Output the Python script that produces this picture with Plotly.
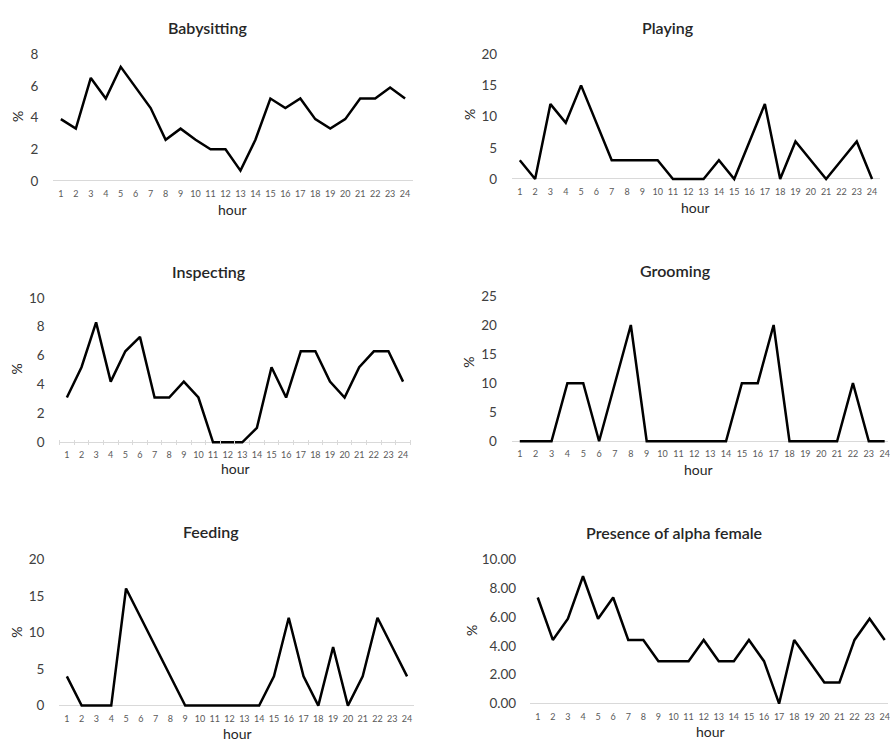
import plotly.graph_objects as go

W, H = 890, 744

hours = list(range(1, 25))
hour_labels = [str(h) for h in hours]

babysitting = [3.9, 3.3, 6.5, 5.2, 7.2, 5.9, 4.6, 2.6, 3.3, 2.6, 2.0, 2.0,
               0.65, 2.6, 5.2, 4.6, 5.2, 3.9, 3.3, 3.9, 5.2, 5.2, 5.9, 5.2]
playing = [3, 0, 12, 9, 15, 9, 3, 3, 3, 3, 0, 0,
           0, 3, 0, 6, 12, 0, 6, 3, 0, 3, 6, 0]
inspecting = [3.1, 5.2, 8.3, 4.2, 6.3, 7.3, 3.1, 3.1, 4.2, 3.1, 0, 0,
              0, 1.0, 5.2, 3.1, 6.3, 6.3, 4.2, 3.1, 5.2, 6.3, 6.3, 4.2]
grooming = [0, 0, 0, 10, 10, 0, 10, 20, 0, 0, 0, 0,
            0, 0, 10, 10, 20, 0, 0, 0, 0, 10, 0, 0]
feeding = [4, 0, 0, 0, 16, 12, 8, 4, 0, 0, 0, 0,
           0, 0, 4, 12, 4, 0, 8, 0, 4, 12, 8, 4]
alpha_female = [7.35, 4.41, 5.88, 8.82, 5.88, 7.35, 4.41, 4.41, 2.94, 2.94, 2.94, 4.41,
                2.94, 2.94, 4.41, 2.94, 0.0, 4.41, 2.94, 1.47, 1.47, 4.41, 5.88, 4.41]

titles = ["Babysitting", "Playing", "Inspecting", "Grooming", "Feeding", "Presence of alpha female"]
series = [babysitting, playing, inspecting, grooming, feeding, alpha_female]
y_max = [8, 20, 10, 25, 20, 10]
y_step = [2, 5, 2, 5, 5, 2]
y_fmt = ["d", "d", "d", "d", "d", ".2f"]

# layout geometry (pixels)
panels = [
    dict(x0=53.5, x1=413.5, xr=[0.5, 24.5], yt=47, y0=176, tx=208, ty=20, hx=233, hy=205, px=17, py=110, standoff=14),
    dict(x0=513.3, x1=881.7, xr=[0.5, 24.5], yt=47, y0=174, tx=670, ty=20, hx=697, hy=203, px=470, py=108, standoff=14),
    dict(x0=59.7, x1=411.3, xr=[0.5, 24.5], yt=295, y0=442, tx=209, ty=268, hx=236, hy=469, px=17, py=367, standoff=14),
    dict(x0=513.0, x1=890.0, xr=[0.5, 24.21], yt=293, y0=441, tx=677, ty=267, hx=700, hy=470, px=470, py=360, standoff=14),
    dict(x0=59.6, x1=415.4, xr=[0.5, 24.5], yt=561, y0=710, tx=211, ty=533, hx=238, hy=738, px=17, py=635, standoff=14),
    dict(x0=531.4, x1=890.0, xr=[0.5, 24.22], yt=561, y0=708, tx=676, ty=534, hx=712, hy=736, px=473, py=633, standoff=13),
]

FONT = "Lato, 'Open Sans', sans-serif"
fig = go.Figure()
annotations = []
pad = 3

for i, (p, t, ys, ym, st, fmt) in enumerate(zip(panels, titles, series, y_max, y_step, y_fmt)):
    n = "" if i == 0 else str(i + 1)
    fig.add_trace(go.Scatter(
        x=hours, y=ys, mode="lines",
        line=dict(color="black", width=2.5),
        xaxis="x" + n, yaxis="y" + n, showlegend=False, hoverinfo="skip"))
    h = p["y0"] - p["yt"]
    ymin = -pad * ym / h
    xdom = [p["x0"] / W, p["x1"] / W]
    ydom = [1 - (p["y0"] + pad) / H, 1 - p["yt"] / H]
    xa = dict(domain=xdom, range=p["xr"], anchor="y" + n,
              tickmode="array", tickvals=hours, ticktext=hour_labels,
              tickfont=dict(family=FONT, size=9, color="#595959"),
              showgrid=False, zeroline=False, showline=False, ticks="",
              ticklabelstandoff=3, ticklabeloverflow="allow", fixedrange=True)
    if i == 2:
        xa["minor"] = dict(tickmode="linear", tick0=0.5, dtick=1, ticks="inside",
                           ticklen=5, tickcolor="#d9d9d9", tickwidth=1)
    ya = dict(domain=ydom, range=[ymin, ym], anchor="x" + n,
              tickmode="linear", tick0=0, dtick=st, tickformat=fmt,
              tickfont=dict(family=FONT, size=13.5, color="#404040"),
              showgrid=False, showline=False, ticks="",
              zeroline=True, zerolinecolor="#d9d9d9", zerolinewidth=1,
              ticklabelstandoff=p["standoff"], fixedrange=True)
    fig.layout["xaxis" + n] = xa
    fig.layout["yaxis" + n] = ya
    annotations.append(dict(text=t, x=p["tx"] / W, y=1 - p["ty"] / H, xref="paper", yref="paper",
                            showarrow=False, xanchor="center", yanchor="middle",
                            font=dict(family=FONT, size=16, color="#262626", weight=600)))
    annotations.append(dict(text="hour", x=p["hx"] / W, y=1 - p["hy"] / H, xref="paper", yref="paper",
                            showarrow=False, xanchor="center", yanchor="middle",
                            font=dict(family=FONT, size=14, color="#262626")))
    annotations.append(dict(text="%", x=p["px"] / W, y=1 - p["py"] / H, xref="paper", yref="paper",
                            showarrow=False, xanchor="center", yanchor="middle", textangle=-90,
                            font=dict(family=FONT, size=14, color="#262626")))

fig.update_layout(
    width=W, height=H,
    margin=dict(l=0, r=0, t=0, b=0),
    paper_bgcolor="white", plot_bgcolor="white",
    annotations=annotations,
    showlegend=False,
)

fig.write_html(
    "out.html",
    config={"displayModeBar": False},
    post_script="document.body.style.margin='0';document.body.style.overflow='hidden';",
)
